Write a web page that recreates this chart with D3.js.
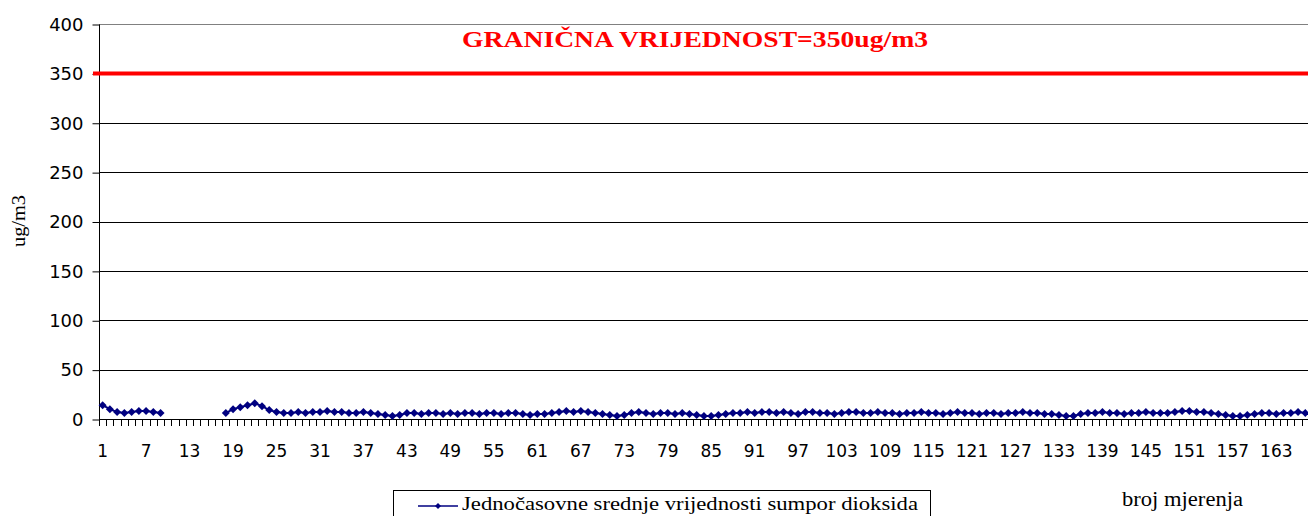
<!DOCTYPE html>
<html>
<head>
<meta charset="utf-8">
<script src="https://cdnjs.cloudflare.com/ajax/libs/d3/7.8.5/d3.min.js"></script>
<style>
  body { margin: 0; background: #fff; }
  svg { display: block; }
</style>
</head>
<body>
<script>
// measurement numbers 1..167
const categories = d3.range(1, 168);

// hourly SO2 means (ug/m3), null = no measurement
const values = [
  14, 10, 7, 6, 7, 8, 8, 7, 6,
  null, null, null, null, null, null, null, null,
  6, 10, 12, 14, 16, 13, 9, 7, 6, 6,
  7, 6, 7, 7, 8, 7, 7, 6, 6, 7,
  6, 5, 4, 3, 4, 6, 6, 5, 6, 6,
  5, 6, 5, 6, 6, 5, 6, 6, 5, 6,
  6, 5, 4, 5, 5, 6, 7, 8, 7, 8,
  7, 6, 5, 4, 3, 4, 6, 7, 6, 5,
  6, 6, 5, 6, 5, 4, 3, 3, 4, 5,
  6, 6, 7, 6, 7, 7, 6, 7, 6, 5,
  7, 7, 6, 6, 5, 6, 7, 7, 6, 6,
  7, 6, 6, 5, 6, 6, 7, 6, 6, 5,
  6, 7, 6, 6, 5, 6, 6, 5, 6, 6,
  7, 6, 6, 5, 5, 4, 3, 3, 5, 6,
  6, 7, 6, 6, 5, 6, 6, 7, 6, 6,
  6, 7, 8, 8, 7, 7, 6, 5, 4, 3,
  3, 4, 5, 6, 6, 5, 6, 6, 7, 6
];

const yTicks = [0, 50, 100, 150, 200, 250, 300, 350, 400];
const xTickLabels = categories.filter((d) => (d - 1) % 6 === 0);
const limitValue = 350;

const title = "GRANIČNA VRIJEDNOST=350ug/m3";
const yTitle = "ug/m3";
const xTitle = "broj mjerenja";
const seriesName = "Jednočasovne srednje vrijednosti sumpor dioksida";

const width = 1308;
const height = 516;
const plotLeft = 99;
const plotTop = 24;
const plotBottom = 419;
const bandW = 7.245;

const svg = d3
  .select("body")
  .append("svg")
  .attr("width", width)
  .attr("height", height);

const xScale = d3
  .scaleBand()
  .domain(categories)
  .range([plotLeft, plotLeft + categories.length * bandW])
  .padding(0);

const yScale = d3.scaleLinear().domain([0, 400]).range([plotBottom, plotTop]);

// gridlines
svg
  .append("g")
  .selectAll("line")
  .data(yTicks.filter((d) => d > 0))
  .enter()
  .append("line")
  .attr("x1", plotLeft)
  .attr("x2", width)
  .attr("y1", (d) => Math.round(yScale(d)) + 0.5)
  .attr("y2", (d) => Math.round(yScale(d)) + 0.5)
  .attr("stroke", (d) => (d === 400 ? "#808080" : "#000"))
  .attr("stroke-width", 1);

// y axis
const yAxis = d3.axisLeft(yScale).tickValues(yTicks).tickSize(7).tickPadding(9);
const gy = svg
  .append("g")
  .attr("transform", `translate(${plotLeft + 0.5}, 0.5)`)
  .call(yAxis);
gy.select(".domain").attr("stroke", "#000").attr("d", `M0,${plotTop}V${plotBottom}`);
gy.selectAll(".tick line").attr("stroke", "#000");
gy.selectAll(".tick text")
  .attr("font-family", "DejaVu Sans, sans-serif")
  .attr("font-size", 18)
  .attr("fill", "#000");

// x axis: ticks at category boundaries
const boundaries = d3.range(categories.length + 1).map((i) => plotLeft + i * bandW);
svg
  .append("g")
  .selectAll("line")
  .data(boundaries)
  .enter()
  .append("line")
  .attr("x1", (d) => Math.round(d) + 0.5)
  .attr("x2", (d) => Math.round(d) + 0.5)
  .attr("y1", plotBottom)
  .attr("y2", plotBottom + 7)
  .attr("stroke", "#000");

svg
  .append("line")
  .attr("x1", plotLeft)
  .attr("x2", width)
  .attr("y1", plotBottom + 0.5)
  .attr("y2", plotBottom + 0.5)
  .attr("stroke", "#000");

svg
  .append("g")
  .selectAll("text")
  .data(xTickLabels)
  .enter()
  .append("text")
  .attr("x", (d) => xScale(d) + bandW / 2)
  .attr("y", 457)
  .attr("text-anchor", "middle")
  .attr("font-family", "DejaVu Sans, sans-serif")
  .attr("font-size", 17)
  .text((d) => d);

// limit line
svg
  .append("line")
  .attr("x1", plotLeft - 6)
  .attr("x2", width)
  .attr("y1", yScale(limitValue))
  .attr("y2", yScale(limitValue))
  .attr("stroke", "#ff0000")
  .attr("stroke-width", 4);

svg
  .append("text")
  .attr("x", 695)
  .attr("y", 47)
  .attr("text-anchor", "middle")
  .attr("font-family", "Liberation Serif, serif")
  .attr("font-weight", "bold")
  .attr("font-size", 24)
  .attr("fill", "#ff0000")
  .attr("textLength", 466)
  .attr("lengthAdjust", "spacingAndGlyphs")
  .text(title);

// series
const pts = categories.map((c, i) => ({ c: c, v: values[i] }));
const line = d3
  .line()
  .defined((d) => d.v != null)
  .x((d) => xScale(d.c) + bandW / 2)
  .y((d) => yScale(d.v));

svg
  .append("path")
  .datum(pts)
  .attr("fill", "none")
  .attr("stroke", "#000080")
  .attr("stroke-width", 2)
  .attr("d", line);

const diamond = "M0,-4L4,0L0,4L-4,0Z";
svg
  .append("g")
  .selectAll("path")
  .data(pts.filter((d) => d.v != null))
  .enter()
  .append("path")
  .attr("d", diamond)
  .attr("transform", (d) => `translate(${xScale(d.c) + bandW / 2}, ${yScale(d.v)})`)
  .attr("fill", "#000080");

// axis titles
svg
  .append("text")
  .attr("transform", "translate(25, 221) rotate(-90)")
  .attr("text-anchor", "middle")
  .attr("font-family", "Liberation Serif, serif")
  .attr("font-size", 19)
  .attr("textLength", 52)
  .attr("lengthAdjust", "spacingAndGlyphs")
  .text(yTitle);

svg
  .append("text")
  .attr("x", 1122)
  .attr("y", 506)
  .attr("font-family", "Liberation Serif, serif")
  .attr("font-size", 20)
  .attr("textLength", 121)
  .attr("lengthAdjust", "spacingAndGlyphs")
  .text(xTitle);

// legend
const legend = svg.append("g");
legend
  .append("rect")
  .attr("x", 393.5)
  .attr("y", 490.5)
  .attr("width", 537)
  .attr("height", 40)
  .attr("fill", "#fff")
  .attr("stroke", "#000");
legend
  .append("line")
  .attr("x1", 418)
  .attr("x2", 458)
  .attr("y1", 506)
  .attr("y2", 506)
  .attr("stroke", "#000080")
  .attr("stroke-width", 1.5);
legend
  .append("path")
  .attr("d", "M0,-3L3,0L0,3L-3,0Z")
  .attr("transform", "translate(438, 506)")
  .attr("fill", "#000080");
legend
  .append("text")
  .attr("x", 462)
  .attr("y", 510)
  .attr("font-family", "Liberation Serif, serif")
  .attr("font-size", 19)
  .attr("textLength", 456)
  .attr("lengthAdjust", "spacingAndGlyphs")
  .text(seriesName);
</script>
</body>
</html>
